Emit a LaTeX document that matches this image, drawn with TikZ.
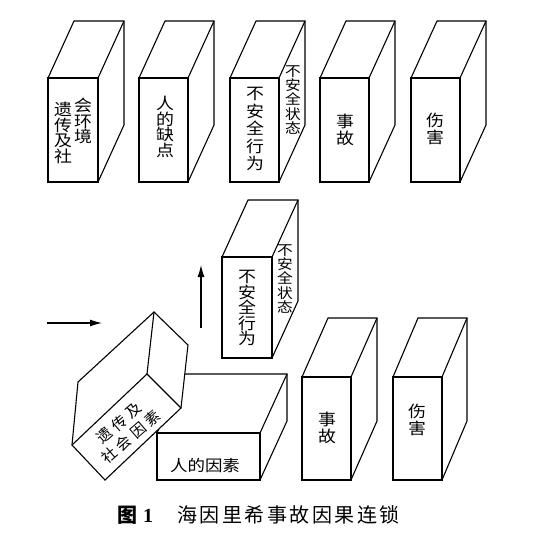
\documentclass[tikz,border=0pt]{standalone}
\usepackage{fontspec}
\newfontfamily\cjk{Noto Sans CJK SC}
\newfontfamily\cjkw{Noto Sans CJK SC}[FakeStretch=1.12]
\newfontfamily\numfont{Liberation Serif}
\usetikzlibrary{arrows.meta}
\tikzset{
  edge/.style={line width=1.1pt, line join=miter},
  face/.style={draw, line width=1.1pt, fill=white, inner sep=0pt, outer sep=0pt, anchor=north west},
  vtext/.style={font=\cjkw\fontsize{16}{15.5}\selectfont, align=center, inner sep=0pt},
  vtextw/.style={font=\cjkw\fontsize{16}{17.5}\selectfont, align=center, inner sep=0pt},
  stext/.style={font=\cjkw\fontsize{14}{14.4}\selectfont, align=center, inner sep=0pt},
  arrowline/.style={line width=1.1pt, -{Latex[length=12pt, width=7pt]}},
}
% name, x, y, width, height, depth dx, depth dy
\newcommand\cuboid[7]{%
  \node[face, minimum width=#4, minimum height=#5] (#1) at (#2,#3) {};
  \draw[edge] (#1.north west) -- ++(#6,#7) -- ++(#4,0) -- ++(0,#5) -- (#1.south east);
  \draw[edge] (#1.north east) -- ++(#6,#7);
}
\newcommand\chgap{\kern4pt }
\begin{document}
\begin{tikzpicture}[x=1pt, y=-1pt]
\useasboundingbox (0,0) rectangle (536,544);
% ---------- top row ----------
\cuboid{b1}{48}{78}{50}{104}{26}{-57}
\cuboid{b2}{139}{78}{49}{104}{26}{-57}
\cuboid{b3}{230}{78}{49}{104}{26}{-57}
\cuboid{b4}{320}{78}{49}{104}{26}{-57}
\cuboid{b5}{411}{78}{49}{104}{26}{-57}
\node[vtext] (t1a) at (63,133) {遗\\传\\及\\社};
\node[vtext] (t1b) at (83,121) {会\\环\\境};
\node[vtext] (t2) at (165,127) {人\\的\\缺\\点};
\node[vtextw] (t3) at (255,129) {不\\安\\全\\行\\为};
\node[stext] (t3s) at (293,100) {不\\安\\全\\状\\态};
\node[vtextw] (t4) at (345,130) {事\\故};
\node[vtextw] (t5) at (435,129) {伤\\害};
% ---------- bottom ----------
\cuboid{c1}{222}{257}{50}{101}{26}{-57}
\node[vtext] (u1t) at (247,308) {不\\安\\全\\行\\为};
\node[stext] (u1s) at (285,279) {不\\安\\全\\状\\态};
\cuboid{c2}{157}{433}{103}{47}{27}{-59}
\node[font=\cjkw\fontsize{15.6}{16}\selectfont, inner sep=0pt] (u2t) at (205,466) {人的因素};
\cuboid{c3}{302}{377}{49}{103}{26}{-59}
\node[vtextw] (u3t) at (327,428) {事\\故};
\cuboid{c4}{393}{377}{49}{103}{25}{-59}
\node[vtextw] (u4t) at (417,420) {伤\\害};
% tilted cuboid
\coordinate (A) at (147,374);
\coordinate (B) at (72,445);
\coordinate (C) at (105,480);
\coordinate (D) at (181,408);
\coordinate (E) at (154,312);
\coordinate (F) at (78,382);
\coordinate (G) at (188,345);
\filldraw[edge, fill=white] (E) -- (F) -- (B) -- (C) -- (D) -- (G) -- cycle;
\draw[edge] (B) -- (A) -- (D);
\draw[edge] (A) -- (E);
\node[font=\cjk\fontsize{15}{18}\selectfont, align=center, inner sep=0pt, rotate=41] (tilt) at (125,430) {遗\chgap 传\chgap 及\\社\chgap 会\chgap 因\chgap 素};
% arrows
\coordinate (r1) at (47,323);
\coordinate (r2) at (102,323);
\draw[arrowline] (r1) -- (r2);
\coordinate (v1) at (201,328);
\coordinate (v2) at (201,265);
\draw[arrowline] (v1) -- (v2);
% caption
\node[anchor=west, inner sep=0pt] (cap) at (117,515) {{\cjk\fontsize{20}{20}\selectfont\bfseries 图}\hspace{6pt}{\numfont\fontsize{20}{20}\selectfont\bfseries 1}\hspace{24pt}{\cjk\fontsize{20}{20}\selectfont 海\kern2.5pt 因\kern2.5pt 里\kern2.5pt 希\kern2.5pt 事\kern2.5pt 故\kern2.5pt 因\kern2.5pt 果\kern2.5pt 连\kern2.5pt 锁}};
\end{tikzpicture}
\end{document}
